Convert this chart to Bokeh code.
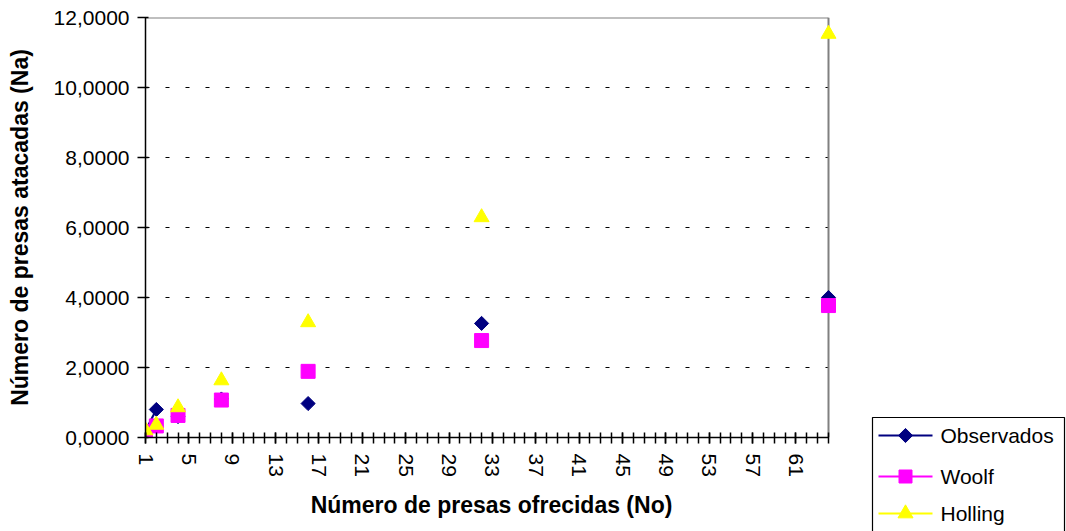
import math
from bokeh.plotting import figure
from bokeh.layouts import row
from bokeh.models import FixedTicker, ColumnDataSource
from bokeh.core.properties import value
from bokeh.embed import file_html
from bokeh.resources import INLINE

# ---- data ----
presas_ofrecidas = [1, 2, 4, 8, 16, 32, 64]
observados = [0.20, 0.80, 0.60, 1.10, 0.97, 3.26, 4.00]
woolf = [0.17, 0.33, 0.63, 1.07, 1.89, 2.77, 3.77]
holling = [0.20, 0.36, 0.86, 1.63, 3.29, 6.29, 11.53]

categorias = list(range(1, 65))
x_tick_values = [1, 5, 9, 13, 17, 21, 25, 29, 33, 37, 41, 45, 49, 53, 57, 61]
x_tick_labels = ["1", "5", "9", "13", "17", "21", "25", "29", "33", "37",
                 "41", "45", "49", "53", "57", "61"]
y_tick_values = [0, 2, 4, 6, 8, 10, 12]
y_tick_labels = ["0,0000", "2,0000", "4,0000", "6,0000", "8,0000",
                 "10,0000", "12,0000"]
series_names = ["Observados", "Woolf", "Holling"]

FONT = "Liberation Sans"
NAVY, MAGENTA, YELLOW = "#000080", "#FF00FF", "#FFFF00"
series_colors = [NAVY, MAGENTA, YELLOW]
BORDER_GRAY = "#808080"

X_MIN, X_MAX = categorias[0], categorias[-1]
Y_MIN, Y_MAX = y_tick_values[0], y_tick_values[-1]


def full_series(vals):
    d = dict(zip(presas_ofrecidas, vals))
    return [d.get(c, float("nan")) for c in categorias]


# ---------------- main chart ----------------
W_MAIN, W_LEG, H = 860, 206, 531
AXIS_X, AXIS_Y = 145, 17           # page px of the y axis and top of plot area
PLOT_W, FH = 683, 420              # pixel span of x 1..64 and y 0..12
PX_PER_X = PLOT_W / (X_MAX - X_MIN)
PAD_R = 9                          # extra frame so the last marker is not clipped
FL = AXIS_X
FW = PLOT_W + PAD_R

p = figure(width=W_MAIN, height=H, output_backend="svg", toolbar_location=None,
           x_range=(X_MIN, X_MAX + PAD_R / PX_PER_X),
           y_range=(Y_MIN, Y_MAX),
           min_border_left=FL, min_border_top=AXIS_Y,
           min_border_right=W_MAIN - FL - FW, min_border_bottom=H - AXIS_Y - FH)
p.frame_align = False
p.background_fill_color = "white"
p.border_fill_color = "white"
p.outline_line_color = None
p.xgrid.visible = False
p.ygrid.visible = False

# axes
p.xaxis.ticker = FixedTicker(ticks=x_tick_values, minor_ticks=categorias)
p.xaxis.major_label_overrides = dict(zip(x_tick_values, x_tick_labels))
p.xaxis.major_label_orientation = "vertical"
p.xaxis.bounds = (X_MIN, X_MAX)
p.yaxis.ticker = FixedTicker(ticks=y_tick_values, minor_ticks=[])
p.yaxis.major_label_overrides = dict(zip(y_tick_values, y_tick_labels))

for ax in (p.xaxis[0], p.yaxis[0]):
    ax.axis_line_color = "black"
    ax.axis_line_width = 1.5
    ax.major_tick_line_color = "black"
    ax.minor_tick_line_color = "black"
    ax.major_tick_line_width = 1.5
    ax.minor_tick_line_width = 1.5
    ax.major_label_text_font = FONT
    ax.major_label_text_font_size = "21px"
    ax.major_label_text_color = "black"
    ax.axis_label_text_font = FONT
    ax.axis_label_text_font_size = "23px"
    ax.axis_label_text_font_style = "bold"
    ax.axis_label_text_color = "black"

p.xaxis.major_tick_in = 5
p.xaxis.major_tick_out = 6
p.xaxis.minor_tick_in = 5
p.xaxis.minor_tick_out = 6
p.xaxis.major_label_standoff = 10
p.xaxis.axis_label = "Número de presas ofrecidas (No)"
p.xaxis.axis_label_standoff = 12

p.yaxis.major_tick_in = 3
p.yaxis.major_tick_out = 8
p.yaxis.major_label_standoff = 8
p.yaxis.axis_label = "Número de presas atacadas (Na)"
p.yaxis.axis_label_standoff = 18

# dashed horizontal gridlines between the axis and the right border
grid_y = y_tick_values[1:-1]
p.segment(x0=[X_MIN] * len(grid_y), x1=[X_MAX] * len(grid_y), y0=grid_y, y1=grid_y,
          line_color="black", line_width=1, line_dash="4 16")

# plot-area border (top and right, gray)
p.segment(x0=[X_MIN, X_MAX], y0=[Y_MAX, Y_MIN], x1=[X_MAX, X_MAX], y1=[Y_MAX, Y_MAX],
          line_color=BORDER_GRAY, line_width=2)

src = ColumnDataSource(dict(
    x=categorias,
    obs=full_series(observados),
    woolf=full_series(woolf),
    holling=full_series(holling),
))

p.line("x", "obs", source=src, line_color=NAVY, line_width=2)
p.line("x", "woolf", source=src, line_color=MAGENTA, line_width=2)
p.line("x", "holling", source=src, line_color=YELLOW, line_width=2)

p.scatter("x", "obs", source=src, marker="square", angle=math.pi / 4,
          size=10, fill_color=NAVY, line_color=NAVY)
p.scatter("x", "woolf", source=src, marker="square", size=14,
          fill_color=MAGENTA, line_color=MAGENTA)
p.scatter("x", "holling", source=src, marker="triangle", size=15,
          fill_color=YELLOW, line_color=YELLOW)

# ---------------- legend panel (page-pixel coordinates) ----------------
lg = figure(width=W_LEG, height=H, output_backend="svg", toolbar_location=None,
            x_range=(W_MAIN, W_MAIN + W_LEG), y_range=(H, 0),
            min_border=0, min_border_left=0, min_border_right=0,
            min_border_top=0, min_border_bottom=0,
            x_axis_location=None, y_axis_location=None)
lg.frame_align = False
lg.outline_line_color = None
lg.xgrid.visible = False
lg.ygrid.visible = False
lg.background_fill_color = "white"
lg.border_fill_color = "white"

BOX_L, BOX_R, BOX_T, BOX_B = 872, 1064, 417, 545
lg.quad(left=[BOX_L], right=[BOX_R], top=[BOX_T], bottom=[BOX_B],
        fill_color="white", line_color="black", line_width=1.2)

row_y = [435, 476, 513]
g0, g1, tx = 878, 932, 940
gm = (g0 + g1) / 2
lg.segment(x0=[g0] * 3, x1=[g1] * 3, y0=row_y, y1=row_y,
           line_color=series_colors, line_width=2)
lg.scatter(x=[gm], y=[row_y[0]], marker="square", angle=math.pi / 4, size=10,
           fill_color=NAVY, line_color=NAVY)
lg.scatter(x=[gm], y=[row_y[1]], marker="square", size=13,
           fill_color=MAGENTA, line_color=MAGENTA)
lg.scatter(x=[gm], y=[row_y[2]], marker="triangle", size=15,
           fill_color=YELLOW, line_color=YELLOW)
lg.text(x=[tx] * 3, y=row_y, text=series_names, text_font=value(FONT),
        text_font_size="21px", text_color="black", text_baseline="middle",
        text_align="left")

layout = row(p, lg, spacing=0)
open("out.html", "w").write(file_html(layout, INLINE))
